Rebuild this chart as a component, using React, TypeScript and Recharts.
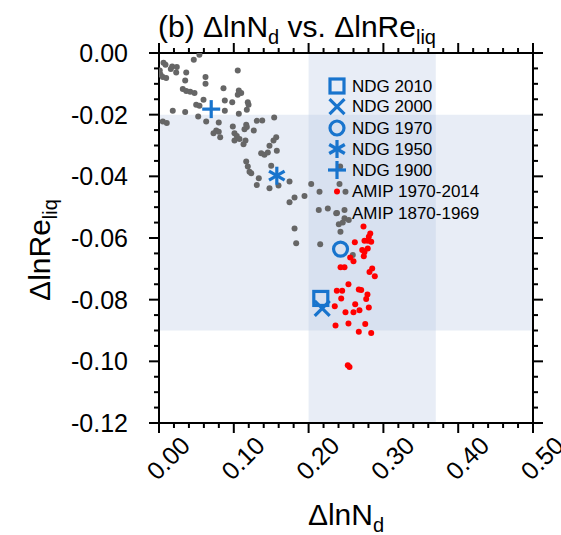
import React from 'react';
import { ScatterChart, Scatter, XAxis, YAxis, ReferenceArea } from 'recharts';

const FONT = '"Liberation Sans", Arial, Helvetica, sans-serif';
const BLUE = '#1874CD';
const GRAY = '#666666';
const RED = '#ff0000';

// AMIP 1870-1969 (gray dots), [dlnNd, dlnReliq]
const amipEarly: [number, number][] = [
  [0.054, -0.0006], [0.0465, -0.0022], [0.006, -0.0032], [0.0087, -0.0038], [0.0176, -0.0044],
  [0.0238, -0.0045], [0.0158, -0.0052], [0.023, -0.0063], [0.0364, -0.0063], [0.001, -0.0057],
  [0.002, -0.007], [0.0051, -0.0078], [0.0096, -0.0081], [0.1053, -0.0057], [0.0622, -0.0078],
  [0.035, -0.0089], [0.0622, -0.01], [0.0318, -0.0117], [0.0364, -0.0123], [0.0417, -0.0126],
  [0.0475, -0.013], [0.0862, -0.0114], [0.1067, -0.0122], [0.1099, -0.013], [0.1053, -0.0135],
  [0.1187, -0.016], [0.1197, -0.0168], [0.1174, -0.0184], [0.0979, -0.016], [0.088, -0.0154],
  [0.0595, -0.0152], [0.0497, -0.0168], [0.0541, -0.0171], [0.0184, -0.0187], [0.035, -0.0191],
  [0.088, -0.0187], [0.1067, -0.0197], [0.0524, -0.0206], [0.0051, -0.0222], [0.0104, -0.0227],
  [0.0631, -0.0222], [0.0799, -0.0225], [0.1307, -0.022], [0.138, -0.0219], [0.154, -0.0209],
  [0.1166, -0.0233], [0.1143, -0.0247], [0.1174, -0.024], [0.0987, -0.0238], [0.1267, -0.0251],
  [0.0765, -0.0251], [0.0799, -0.0255], [0.0729, -0.026], [0.1009, -0.026], [0.104, -0.0269],
  [0.0818, -0.0273], [0.1009, -0.0284], [0.1076, -0.0279], [0.1156, -0.0284], [0.113, -0.0296],
  [0.1567, -0.0273], [0.1531, -0.0284], [0.1477, -0.0301], [0.1366, -0.0325], [0.141, -0.033],
  [0.1455, -0.0323], [0.1575, -0.0317], [0.1166, -0.0352], [0.1187, -0.0368], [0.121, -0.0385],
  [0.1233, -0.039], [0.15, -0.0366], [0.1334, -0.0406], [0.1307, -0.0428], [0.1477, -0.0439],
  [0.1598, -0.043], [0.1745, -0.0417], [0.2035, -0.0425], [0.2146, -0.045], [0.1945, -0.0464],
  [0.1812, -0.0469], [0.1745, -0.0484], [0.1812, -0.0569], [0.1834, -0.0617], [0.2136, -0.0509],
  [0.2155, -0.062], [0.2257, -0.0504], [0.2369, -0.052], [0.248, -0.0509], [0.248, -0.0536],
  [0.2537, -0.0542], [0.2404, -0.0555], [0.2457, -0.055], [0.2426, -0.058], [0.2591, -0.0655],
  [0.2422, -0.0368], [0.2413, -0.0425], [0.2493, -0.045],
];

// AMIP 1970-2014 (red dots)
const amipLate: [number, number][] = [
  [0.2734, -0.0563], [0.2824, -0.0585], [0.2805, -0.0596], [0.2747, -0.0609], [0.2791, -0.0609],
  [0.2837, -0.0612], [0.2618, -0.0614], [0.2717, -0.0639], [0.2747, -0.0645], [0.2791, -0.0634],
  [0.2738, -0.0659], [0.2556, -0.0663], [0.26, -0.0675], [0.2427, -0.0695], [0.248, -0.0695],
  [0.285, -0.0699], [0.2814, -0.071], [0.2885, -0.0724], [0.2533, -0.075], [0.2377, -0.0771],
  [0.2449, -0.0771], [0.2671, -0.0767], [0.2703, -0.0769], [0.2787, -0.0783], [0.277, -0.0798],
  [0.2436, -0.0796], [0.235, -0.0821], [0.2623, -0.0815], [0.268, -0.0834], [0.26, -0.0841],
  [0.2493, -0.0841], [0.2805, -0.0825], [0.236, -0.0884], [0.2533, -0.0877], [0.2757, -0.0879],
  [0.2671, -0.0904], [0.2837, -0.0908], [0.2524, -0.1013], [0.2547, -0.1018],
];

// nudged runs
const ndgNames = ['NDG 2010', 'NDG 2000', 'NDG 1970', 'NDG 1950', 'NDG 1900'];
const ndgX = [0.2163, 0.2182, 0.2427, 0.1575, 0.0698];
const ndgY = [-0.0796, -0.0828, -0.0636, -0.0398, -0.0182];
const ndgShapes = ['square', 'cross', 'circle', 'star', 'plus'];

const amipNames = ['AMIP 1970-2014', 'AMIP 1870-1969'];

// shaded ranges
const bandX = [0.2, 0.37];
const bandY = [-0.09, -0.02];

const xMajor = [0, 0.1, 0.2, 0.3, 0.4, 0.5];
const xLabels = ['0.00', '0.10', '0.20', '0.30', '0.40', '0.50'];
const xTicks = [0, 0.02, 0.04, 0.06, 0.08, 0.1, 0.12, 0.14, 0.16, 0.18, 0.2, 0.22, 0.24, 0.26, 0.28, 0.3,
  0.32, 0.34, 0.36, 0.38, 0.4, 0.42, 0.44, 0.46, 0.48, 0.5];
const yMajor = [0, -0.02, -0.04, -0.06, -0.08, -0.1, -0.12];
const yLabels = ['0.00', '-0.02', '-0.04', '-0.06', '-0.08', '-0.10', '-0.12'];
const yTicks = [0, -0.005, -0.01, -0.015, -0.02, -0.025, -0.03, -0.035, -0.04, -0.045, -0.05, -0.055,
  -0.06, -0.065, -0.07, -0.075, -0.08, -0.085, -0.09, -0.095, -0.1, -0.105, -0.11, -0.115, -0.12];

const majorIndex = (v: number, majors: number[]) => majors.findIndex((m) => Math.abs(m - v) < 1e-9);

const BottomTick = (props: any) => {
  const { x, y, payload } = props;
  const i = majorIndex(payload.value, xMajor);
  const cx = x + 9;
  const cy = y + 35;
  return (
    <g>
      <line x1={x} x2={x} y1={y} y2={y + (i >= 0 ? 10 : 5)} stroke="#000" strokeWidth={2} />
      {i >= 0 && (
        <text x={cx} y={cy} transform={`rotate(-45 ${cx} ${cy})`} textAnchor="middle"
          dominantBaseline="central" fontSize={25} fontFamily={FONT} fill="#000">
          {xLabels[i]}
        </text>
      )}
    </g>
  );
};

const TopTick = (props: any) => {
  const { x, y, payload } = props;
  const i = majorIndex(payload.value, xMajor);
  return <line x1={x} x2={x} y1={y} y2={y - (i >= 0 ? 10 : 5)} stroke="#000" strokeWidth={2} />;
};

const LeftTick = (props: any) => {
  const { x, y, payload } = props;
  const i = majorIndex(payload.value, yMajor);
  return (
    <g>
      <line x1={x} x2={x - (i >= 0 ? 10 : 5)} y1={y} y2={y} stroke="#000" strokeWidth={2} />
      {i >= 0 && (
        <text x={x - 31} y={y} textAnchor="end" dominantBaseline="central" fontSize={25}
          fontFamily={FONT} fill="#000">
          {yLabels[i]}
        </text>
      )}
    </g>
  );
};

const RightTick = (props: any) => {
  const { x, y, payload } = props;
  const i = majorIndex(payload.value, yMajor);
  return <line x1={x} x2={x + (i >= 0 ? 10 : 5)} y1={y} y2={y} stroke="#000" strokeWidth={2} />;
};

const Marker = ({ kind, cx, cy }: { kind: string; cx: number; cy: number }) => {
  const sw = 3.2;
  if (kind === 'square')
    return <rect x={cx - 7} y={cy - 7} width={14} height={14} fill="none" stroke={BLUE} strokeWidth={sw} />;
  if (kind === 'circle') return <circle cx={cx} cy={cy} r={7} fill="none" stroke={BLUE} strokeWidth={sw} />;
  if (kind === 'cross') {
    const d = 7.5;
    return (
      <g stroke={BLUE} strokeWidth={sw}>
        <line x1={cx - d} y1={cy - d} x2={cx + d} y2={cy + d} />
        <line x1={cx - d} y1={cy + d} x2={cx + d} y2={cy - d} />
      </g>
    );
  }
  if (kind === 'plus') {
    const d = 9;
    return (
      <g stroke={BLUE} strokeWidth={sw}>
        <line x1={cx - d} y1={cy} x2={cx + d} y2={cy} />
        <line x1={cx} y1={cy - d} x2={cx} y2={cy + d} />
      </g>
    );
  }
  const d = 9;
  const a = d * Math.cos(Math.PI / 6);
  const b = d * Math.sin(Math.PI / 6);
  return (
    <g stroke={BLUE} strokeWidth={sw}>
      <line x1={cx} y1={cy - d} x2={cx} y2={cy + d} />
      <line x1={cx - a} y1={cy - b} x2={cx + a} y2={cy + b} />
      <line x1={cx - a} y1={cy + b} x2={cx + a} y2={cy - b} />
    </g>
  );
};

const dot = (color: string) => (p: any) => <circle cx={p.cx} cy={p.cy} r={3} fill={color} />;

const toPts = (arr: [number, number][]) => arr.map(([x, y]) => ({ x, y }));

const legendRows = [86, 106.7, 128, 149, 170, 191.5, 213];

export default function App() {
  return (
    <div style={{ position: 'absolute', left: 0, top: 0, width: 561, height: 535 }}>
      <ScatterChart width={561} height={535} margin={{ top: 52, right: 0, bottom: 0, left: 0 }}>
        <XAxis xAxisId="b" type="number" dataKey="x" domain={[0, 0.5]} ticks={xTicks} interval={0}
          tickSize={0} tickMargin={0} height={112} tick={<BottomTick />}
          axisLine={{ stroke: '#000', strokeWidth: 2 }} tickLine={false} allowDataOverflow />
        <XAxis xAxisId="t" orientation="top" type="number" dataKey="x" domain={[0, 0.5]} ticks={xTicks}
          interval={0} tickSize={0} tickMargin={0} height={1} tick={<TopTick />}
          axisLine={{ stroke: '#000', strokeWidth: 2 }} tickLine={false} allowDataOverflow />
        <YAxis yAxisId="l" type="number" dataKey="y" domain={[-0.12, 0]} ticks={yTicks} interval={0}
          tickSize={0} tickMargin={0} width={159} tick={<LeftTick />}
          axisLine={{ stroke: '#000', strokeWidth: 2 }} tickLine={false} allowDataOverflow />
        <YAxis yAxisId="r" orientation="right" type="number" dataKey="y" domain={[-0.12, 0]} ticks={yTicks}
          interval={0} tickSize={0} tickMargin={0} width={28} tick={<RightTick />}
          axisLine={{ stroke: '#000', strokeWidth: 2 }} tickLine={false} allowDataOverflow />
        <ReferenceArea xAxisId="b" yAxisId="l" x1={0} x2={0.5} y1={bandY[0]} y2={bandY[1]}
          fill="#b8c8e4" fillOpacity={0.32} stroke="none" />
        <ReferenceArea xAxisId="b" yAxisId="l" x1={bandX[0]} x2={bandX[1]} y1={-0.12} y2={0}
          fill="#b8c8e4" fillOpacity={0.32} stroke="none" />
        <Scatter xAxisId="b" yAxisId="l" data={toPts(amipEarly)} shape={dot(GRAY)} isAnimationActive={false} />
        <Scatter xAxisId="b" yAxisId="l" data={toPts(amipLate)} shape={dot(RED)} isAnimationActive={false} />
        {ndgNames.map((n, i) => (
          <Scatter key={n} name={n} xAxisId="b" yAxisId="l" data={[{ x: ndgX[i], y: ndgY[i] }]}
            shape={(p: any) => <Marker kind={ndgShapes[i]} cx={p.cx} cy={p.cy} />}
            isAnimationActive={false} />
        ))}
      </ScatterChart>
      <svg width={561} height={535} style={{ position: 'absolute', left: 0, top: 0, pointerEvents: 'none' }}
        fontFamily={FONT}>
        <text x={158} y={37} fontSize={30} fill="#000">
          (b) ΔlnN<tspan fontSize={20} dy={7}>d</tspan>
          <tspan dy={-7}> vs. ΔlnRe</tspan>
          <tspan fontSize={20} dy={7}>liq</tspan>
        </text>
        <text x={346} y={525} fontSize={30} textAnchor="middle" fill="#000">
          ΔlnN<tspan fontSize={20} dy={7}>d</tspan>
        </text>
        <text x={50} y={250} fontSize={30} textAnchor="middle" fill="#000" transform="rotate(-90 50 250)">
          ΔlnRe<tspan fontSize={20} dy={7}>liq</tspan>
        </text>
        {ndgNames.map((n, i) => (
          <g key={n}>
            <Marker kind={ndgShapes[i]} cx={337} cy={legendRows[i]} />
            <text x={352} y={legendRows[i]} dominantBaseline="central" fontSize={17} fill="#000">{n}</text>
          </g>
        ))}
        {amipNames.map((n, i) => (
          <g key={n}>
            <circle cx={337} cy={legendRows[5 + i]} r={3} fill={i === 0 ? RED : GRAY} />
            <text x={352} y={legendRows[5 + i]} dominantBaseline="central" fontSize={17} fill="#000">{n}</text>
          </g>
        ))}
      </svg>
    </div>
  );
}
